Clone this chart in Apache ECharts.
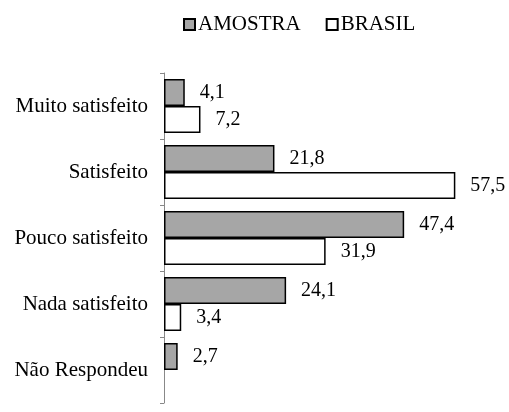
<!DOCTYPE html>
<html>
<head>
    <meta charset="utf-8">
    <title>Satisfacao</title>
    <script src="https://cdn.jsdelivr.net/npm/echarts@6/dist/echarts.min.js"></script>
</head>
<body style="margin:0;background:#fff">
    <div id="main" style="width:509px;height:412px;"></div>
    <script type="text/javascript">
        // dados
        var categorias = ['Muito satisfeito', 'Satisfeito', 'Pouco satisfeito', 'Nada satisfeito', 'Não Respondeu'];
        var amostra = [4.1, 21.8, 47.4, 24.1, 2.7];
        var brasil = [7.2, 57.5, 31.9, 3.4, null];

        var fonte = "'Liberation Serif', 'Times New Roman', serif";
        var myChart = echarts.init(document.getElementById('main'));

        function rotulo(p) {
            return p.value == null ? '' : String(p.value.toFixed(1)).replace('.', ',');
        }

        option = {
            animation: false,
            textStyle: { fontFamily: fonte },
            legend:
            {
                top: 9,
                left: 178,
                icon: 'rect',
                itemWidth: 11,
                itemHeight: 11,
                itemGap: 25,
                textStyle: { fontFamily: fonte, fontSize: 21, color: '#000', padding: [0, 0, 0, -2] },
                data: ['AMOSTRA', 'BRASIL']
            },
            grid:
            {
                left: 164,
                right: 41,
                top: 73,
                bottom: 9
            },
            xAxis:
            {
                type: 'value',
                min: 0,
                max: 60,
                show: false
            },
            yAxis:
            {
                type: 'category',
                inverse: true,
                data: categorias,
                axisLine: { lineStyle: { color: '#888', width: 1 } },
                axisTick: { show: true, length: 4, lineStyle: { color: '#888' } },
                axisLabel: { fontFamily: fonte, fontSize: 21, color: '#000', margin: 16 }
            },
            series: [
            {
                name: 'AMOSTRA',
                type: 'bar',
                barCategoryGap: '18%',
                barGap: '0%',
                itemStyle: { color: '#a6a6a6', borderColor: '#000', borderWidth: 1.5 },
                label: { show: true, position: 'right', distance: 15, fontFamily: fonte, fontSize: 20, color: '#000', formatter: rotulo },
                data: amostra
            },
            {
                name: 'BRASIL',
                type: 'bar',
                barCategoryGap: '18%',
                barGap: '0%',
                itemStyle: { color: '#fff', borderColor: '#000', borderWidth: 1.5 },
                label: { show: true, position: 'right', distance: 15, fontFamily: fonte, fontSize: 20, color: '#000', formatter: rotulo },
                data: brasil
            }
            ]
        };
        myChart.setOption(option);
    </script>
</body>
</html>
